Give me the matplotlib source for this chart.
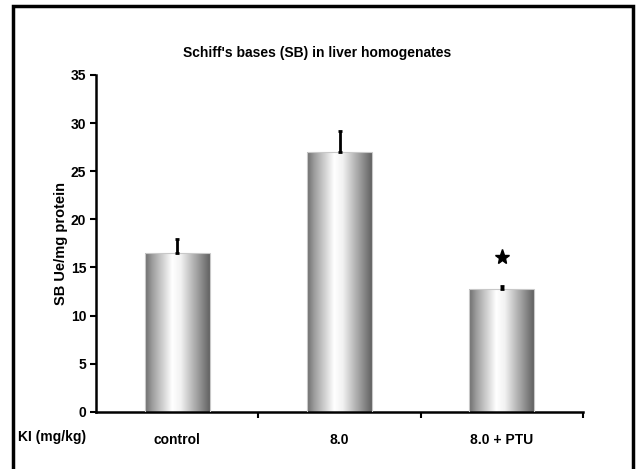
import matplotlib
matplotlib.use('Agg')
import matplotlib.pyplot as plt
import matplotlib.patches as mpatches
from matplotlib.colors import LinearSegmentedColormap
import numpy as np

plt.rcParams['font.family'] = ['Liberation Sans Narrow', 'Liberation Sans', 'DejaVu Sans']

categories = ['control', '8.0', '8.0 + PTU']
values = [16.5, 27.0, 12.8]
errors = [1.5, 2.2, 0.3]
star_y = 16.1
yticks = [0, 5, 10, 15, 20, 25, 30, 35]

fig = plt.figure(figsize=(6.41, 4.69), dpi=100)
fig.patch.set_facecolor('white')

# outer frame (open at the bottom, cropped)
frame = mpatches.Rectangle((13 / 641, -0.05), (633 - 13) / 641, 1 - 6 / 469 + 0.05,
                           transform=fig.transFigure, fill=False, edgecolor='black',
                           linewidth=2.5, zorder=0)
fig.patches.append(frame)

ax = fig.add_axes([96 / 641, (469 - 411.7) / 469, (583 - 96) / 641, (411.7 - 75) / 469])
ax.set_xlim(-0.5, 2.5)
ax.set_ylim(0, 35)

# cylinder shading gradient
cmap = LinearSegmentedColormap.from_list('cyl', [
    (0.0, '#6e6e6e'), (0.12, '#a0a0a0'), (0.42, '#ffffff'),
    (0.55, '#f2f2f2'), (0.85, '#929292'), (1.0, '#626262')])
grad = np.linspace(0, 1, 256).reshape(1, -1)
width = 0.4
for i, v in enumerate(values):
    x0 = i - width / 2
    im = ax.imshow(grad, cmap=cmap, aspect='auto', extent=(x0, x0 + width, 0, v),
                   zorder=2, interpolation='bilinear')
    rect = mpatches.Rectangle((x0, 0), width, v, fill=False, edgecolor='#c8c8c8',
                              linewidth=0.8, zorder=3)
    ax.add_patch(rect)
    im.set_clip_path(rect)
    ax.errorbar(i, v, yerr=[[0], [errors[i]]], fmt='none', ecolor='black',
                elinewidth=2, capsize=1.5, capthick=2, zorder=4)

ax.plot(2, star_y, marker='*', color='black', markersize=11, linestyle='none', zorder=5)

for s in ['top', 'right']:
    ax.spines[s].set_visible(False)
ax.spines['left'].set_linewidth(1.8)
ax.spines['bottom'].set_linewidth(1.8)

ax.set_yticks(yticks)
ax.set_yticklabels([str(t) for t in yticks], fontsize=10, fontweight='bold')
ax.tick_params(axis='y', direction='out', length=4, width=1.5, pad=3)
ax.set_xticks([0.5, 1.5, 2.5])
ax.set_xticklabels([])
ax.tick_params(axis='x', direction='out', length=4, width=1.5)

ax.set_ylabel('SB Ue/mg protein', fontsize=10.5, fontweight='bold', labelpad=2)

for i, c in enumerate(categories):
    ax.text(i, -0.085, c, transform=ax.get_xaxis_transform(), ha='center', va='center',
            fontsize=10, fontweight='bold')
fig.text(52 / 641, 1 - 437 / 469, 'KI (mg/kg)', ha='center', va='center',
         fontsize=10, fontweight='bold')

fig.text(317 / 641, 1 - 53 / 469, "Schiff's bases (SB) in liver homogenates",
         ha='center', va='center', fontsize=10, fontweight='bold')

fig.savefig('out.png', dpi=100, facecolor='white')
